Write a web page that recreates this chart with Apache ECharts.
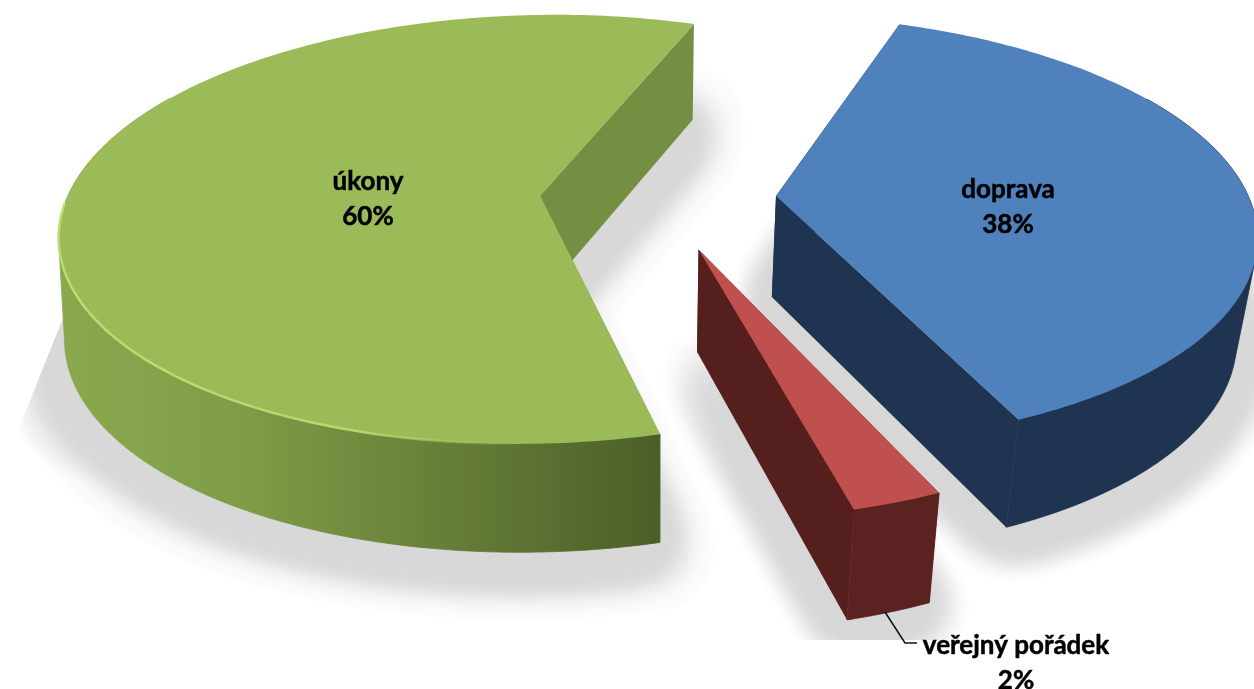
<!DOCTYPE html>
<html><head><meta charset="utf-8">
<style>html,body{margin:0;padding:0;background:#fff}#c{width:1254px;height:689px}</style>
<script src="https://cdn.jsdelivr.net/npm/echarts@6/dist/echarts.min.js"></script>
</head><body><div id="c"></div>
<script>
const categories = ['doprava', 'veřejný pořádek', 'úkony'];
const values = [37.9, 2.55, 59.55];
const percentLabels = ['38%', '2%', '60%'];
const topColors = ['#4f81bd', '#c0504d', '#9bbb59'];
const innerColors = ['#1f3450', '#551f1e', '#758f42'];
const labelAnchors = [[1008, 207], [1016, 663], [368, 199]];

const firstAngle = 19.7, explode = 0.25;
const V = {cx: 658, cy: 198, A: 473, B: 210, p: 0.157, cyb: 299, sxL: 0.99, sxR: 0.965, sy: 1.03};
const total = values.reduce((a, b) => a + b, 0);
const rad = d => d * Math.PI / 180;

function proj(x, y) {
  const w = 1 + V.p * y;
  return [V.cx + V.A * x / w, V.cy - V.B * y / w];
}
function drop(pt) {
  const s = pt[0] < V.cx ? V.sxL : V.sxR;
  return [V.cx + s * (pt[0] - V.cx), V.cyb + V.sy * (pt[1] - V.cy)];
}
function sliceInfo(i) {
  let a0 = firstAngle;
  for (let k = 0; k < i; k++) a0 += values[k] / total * 360;
  const a1 = a0 + values[i] / total * 360;
  const mid = rad((a0 + a1) / 2);
  return {a0, a1, ox: explode * Math.sin(mid), oy: explode * Math.cos(mid)};
}
function arc(s, from, to) {
  const pts = [];
  const n = Math.max(2, Math.ceil(to - from));
  for (let j = 0; j <= n; j++) {
    const t = rad(from + (to - from) * j / n);
    pts.push(proj(s.ox + Math.sin(t), s.oy + Math.cos(t)));
  }
  return pts;
}
function hull(points) {
  const p = points.slice().sort((a, b) => a[0] - b[0] || a[1] - b[1]);
  const cross = (o, a, b) => (a[0] - o[0]) * (b[1] - o[1]) - (a[1] - o[1]) * (b[0] - o[0]);
  const half = list => {
    const h = [];
    list.forEach(q => {
      while (h.length > 1 && cross(h[h.length - 2], h[h.length - 1], q) <= 0) h.pop();
      h.push(q);
    });
    h.pop();
    return h;
  };
  return half(p).concat(half(p.slice().reverse()));
}
const greenWall = {type: 'linear', x: 0, y: 0, x2: 1, y2: 0, colorStops: [
  {offset: 0, color: '#8aa94e'}, {offset: 0.3, color: '#7f9d47'}, {offset: 0.55, color: '#6e863c'},
  {offset: 0.8, color: '#5b7031'}, {offset: 1, color: '#4b5e28'}]};
const wallFills = ['#1f3450', '#5a2321', greenWall];
const FAR = 3000, SPREAD = 20, COPIES = 16;
const shadowClip = [[66, 0], [66, 312], [14, 440], [14, 640], [1254, 640], [1254, 0]];

function renderShadow(params, api) {
  const i = params.dataIndex, s = sliceInfo(i);
  const c = proj(s.ox, s.oy);
  const base = [c].concat(arc(s, s.a0, s.a1)).map(drop);
  const shade = '#d8d8d8';
  const children = [];
  if (i === 2) {
    children.push({type: 'polygon', shape: {points: [[66, 312], [14, 440], [100, 560], [300, 300]]},
      style: {fill: {type: 'radial', global: true, x: 105, y: 385, r: 100, colorStops: [
        {offset: 0.4, color: 'rgba(217,217,217,1)'}, {offset: 1, color: 'rgba(217,217,217,0)'}]}}});
  }
  for (let k = 0; k < COPIES; k++) {
    const t = 2 * Math.PI * k / COPIES;
    const dx = SPREAD * Math.cos(t) - FAR, dy = SPREAD * Math.sin(t) + 8;
    children.push({type: 'polygon', shape: {points: base.map(p => [p[0] + dx, p[1] + dy])},
      style: {fill: shade, shadowColor: shade, shadowBlur: 34, shadowOffsetX: FAR}});
  }
  return {type: 'group', clipPath: {type: 'polygon', shape: {points: shadowClip}}, children};
}

function renderSlice(params, api) {
  const i = params.dataIndex, s = sliceInfo(i);
  const c = proj(s.ox, s.oy);
  const topArc = arc(s, s.a0, s.a1);
  const startPt = topArc[0], endPt = topArc[topArc.length - 1];
  const from = Math.max(s.a0, 60), to = Math.min(s.a1, 300);
  const wallTop = arc(s, from, to);
  const wallPts = hull(wallTop.concat(wallTop.map(drop)));
  const children = [];
  [startPt, endPt].forEach(e => {
    children.push({type: 'polygon', shape: {points: [c, e, drop(e), drop(c)]}, style: {fill: innerColors[i]}});
  });
  children.push({type: 'polygon', shape: {points: wallPts}, style: {fill: wallFills[i], stroke: wallFills[i], lineWidth: 0.8}});
  children.push({type: 'polygon', shape: {points: [c].concat(topArc)}, style: {fill: topColors[i]}});
  if (i === 2) {
    children.push({type: 'polyline', shape: {points: arc(s, 180, 268)},
      style: {fill: 'none', lineWidth: 2.5, stroke: {type: 'linear', x: 0, y: 0, x2: 1, y2: 0, colorStops: [
        {offset: 0, color: 'rgba(185,222,110,1)'}, {offset: 0.65, color: 'rgba(181,216,106,1)'}, {offset: 1, color: 'rgba(181,216,106,0)'}]}}});
  }
  const a = labelAnchors[i];
  children.push({type: 'text', z2: 10, style: {
    text: categories[i] + '\n' + percentLabels[i], x: a[0], y: a[1],
    align: 'center', verticalAlign: 'middle', lineHeight: 35,
    font: 'bold 26px Lato', fill: '#000', stroke: '#000', lineWidth: 0.5}});
  if (i === 1) {
    children.push({type: 'polyline', shape: {points: [[885, 612], [905, 643], [917, 643]]},
      style: {fill: 'none', stroke: '#111', lineWidth: 1.5}});
  }
  return {type: 'group', children};
}

const chart = echarts.init(document.getElementById('c'), null, {renderer: 'canvas'});
chart.setOption({
  backgroundColor: '#fff', animation: false,
  series: [
    {type: 'custom', coordinateSystem: 'none', silent: true, z: 1, renderItem: renderShadow, data: values.map(v => [v])},
    {type: 'custom', coordinateSystem: 'none', silent: true, z: 2, renderItem: renderSlice, data: values.map(v => [v])}
  ]
});
</script></body></html>
